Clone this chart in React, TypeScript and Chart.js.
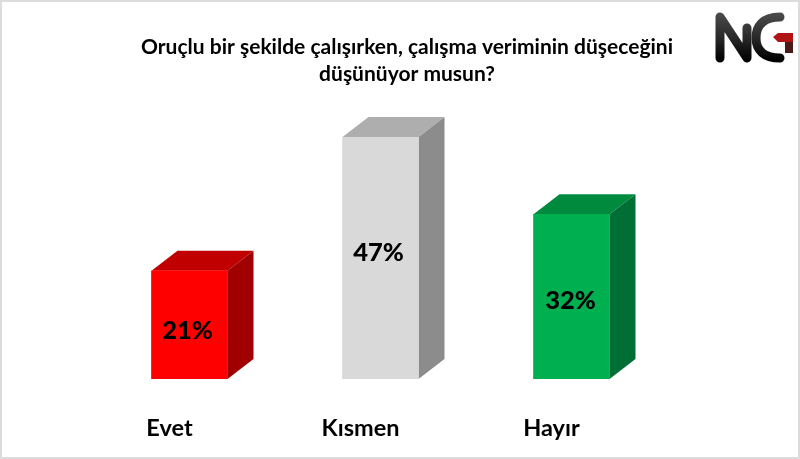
import React, { useEffect, useRef } from "react";
import { Chart, registerables, Plugin } from "chart.js";

Chart.register(...registerables);

const categories = ["Evet", "Kısmen", "Hayır"];
const values = [21, 47, 32];
const frontColors = ["#ff0000", "#d9d9d9", "#00b050"];
const topColors = ["#c00000", "#aeaeae", "#008a3e"];
const sideColors = ["#a00000", "#8c8c8c", "#006f35"];
const titleLines = [
  "Oruçlu bir şekilde çalışırken, çalışma veriminin düşeceğini",
  "düşünüyor musun?",
];
const FONT = "Lato, 'Open Sans', sans-serif";

const box3d: Plugin<"bar"> = {
  id: "box3d",
  beforeDatasetsDraw(chart) {
    const { ctx } = chart;
    const dx = 26;
    const dy = 20;
    chart.getDatasetMeta(0).data.forEach((bar: any, i: number) => {
      const l = bar.x - bar.width / 2;
      const r = bar.x + bar.width / 2;
      const t = bar.y;
      const b = bar.base;
      ctx.save();
      ctx.fillStyle = topColors[i];
      ctx.beginPath();
      ctx.moveTo(l, t);
      ctx.lineTo(l + dx, t - dy);
      ctx.lineTo(r + dx, t - dy);
      ctx.lineTo(r, t);
      ctx.closePath();
      ctx.fill();
      ctx.fillStyle = sideColors[i];
      ctx.beginPath();
      ctx.moveTo(r, t);
      ctx.lineTo(r + dx, t - dy);
      ctx.lineTo(r + dx, b - dy);
      ctx.lineTo(r, b);
      ctx.closePath();
      ctx.fill();
      ctx.restore();
    });
  },
  afterDatasetsDraw(chart) {
    const { ctx } = chart;
    const labelShift = [6, -5, 4];
    ctx.save();
    ctx.fillStyle = "#000";
    ctx.font = `900 25.5px ${FONT}`;
    ctx.textAlign = "center";
    ctx.textBaseline = "middle";
    chart.getDatasetMeta(0).data.forEach((bar: any, i: number) => {
      ctx.fillText(`${values[i]}%`, bar.x - (i === 2 ? 1 : 2), (bar.y + bar.base) / 2 + labelShift[i]);
    });
    ctx.restore();
  },
  afterDraw(chart) {
    const { ctx, width, height } = chart;
    ctx.save();
    // title
    ctx.fillStyle = "#000";
    ctx.font = `bold 21px ${FONT}`;
    ctx.textAlign = "center";
    ctx.textBaseline = "middle";
    ctx.fillText(titleLines[0], 407, 47);
    ctx.fillText(titleLines[1], 407, 74);
    // frame
    ctx.strokeStyle = "#dcdcdc";
    ctx.lineWidth = 2;
    ctx.strokeRect(1, 1, width - 2, height - 2);
    // logo
    const grad = ctx.createLinearGradient(0, 14, 0, 60);
    grad.addColorStop(0, "#4a4a4a");
    grad.addColorStop(0.5, "#2a2a2a");
    grad.addColorStop(1, "#000000");
    ctx.strokeStyle = grad;
    ctx.lineWidth = 9;
    ctx.lineCap = "round";
    ctx.lineJoin = "round";
    ctx.beginPath();
    ctx.moveTo(720, 58);
    ctx.lineTo(720, 17);
    ctx.lineTo(747, 58);
    ctx.lineTo(747, 28);
    ctx.stroke();
    ctx.beginPath();
    ctx.moveTo(780, 17);
    ctx.bezierCurveTo(762, 17, 756, 27, 756, 38);
    ctx.bezierCurveTo(756, 50, 764, 58, 780, 58);
    ctx.stroke();
    ctx.fillStyle = "#b01515";
    ctx.beginPath();
    ctx.moveTo(773, 37);
    ctx.lineTo(778, 33);
    ctx.lineTo(793, 33);
    ctx.lineTo(793, 42);
    ctx.lineTo(778, 42);
    ctx.closePath();
    ctx.fill();
    ctx.fillStyle = "#4a1a18";
    ctx.beginPath();
    ctx.moveTo(785, 42);
    ctx.lineTo(793, 42);
    ctx.lineTo(793, 53);
    ctx.lineTo(785, 53);
    ctx.closePath();
    ctx.fill();
    ctx.restore();
  },
};

export default function App() {
  const ref = useRef<HTMLCanvasElement>(null);
  useEffect(() => {
    document.body.style.margin = "0";
    document.body.style.background = "#fff";
    const chart = new Chart(ref.current!, {
      type: "bar",
      data: {
        labels: categories,
        datasets: [
          {
            data: values,
            backgroundColor: frontColors,
            barThickness: 76,
            borderWidth: 0,
          },
        ],
      },
      options: {
        animation: false,
        responsive: false,
        layout: { padding: { left: 94, right: 133, top: 137, bottom: 0 } },
        plugins: { legend: { display: false }, title: { display: false }, tooltip: { enabled: false } },
        scales: {
          y: { display: false, min: 0, max: 47 },
          x: {
            grid: { display: false },
            border: { display: false },
            afterFit(scale: any) {
              scale.height = 80;
            },
            ticks: {
              color: "#000",
              labelOffset: -20,
              padding: 27,
              maxRotation: 0,
              font: { family: FONT, size: 23.5, weight: "bold" },
            },
          },
        },
      },
      plugins: [box3d],
    });
    return () => chart.destroy();
  }, []);
  return <canvas ref={ref} width={800} height={459} style={{ display: "block" }} />;
}
